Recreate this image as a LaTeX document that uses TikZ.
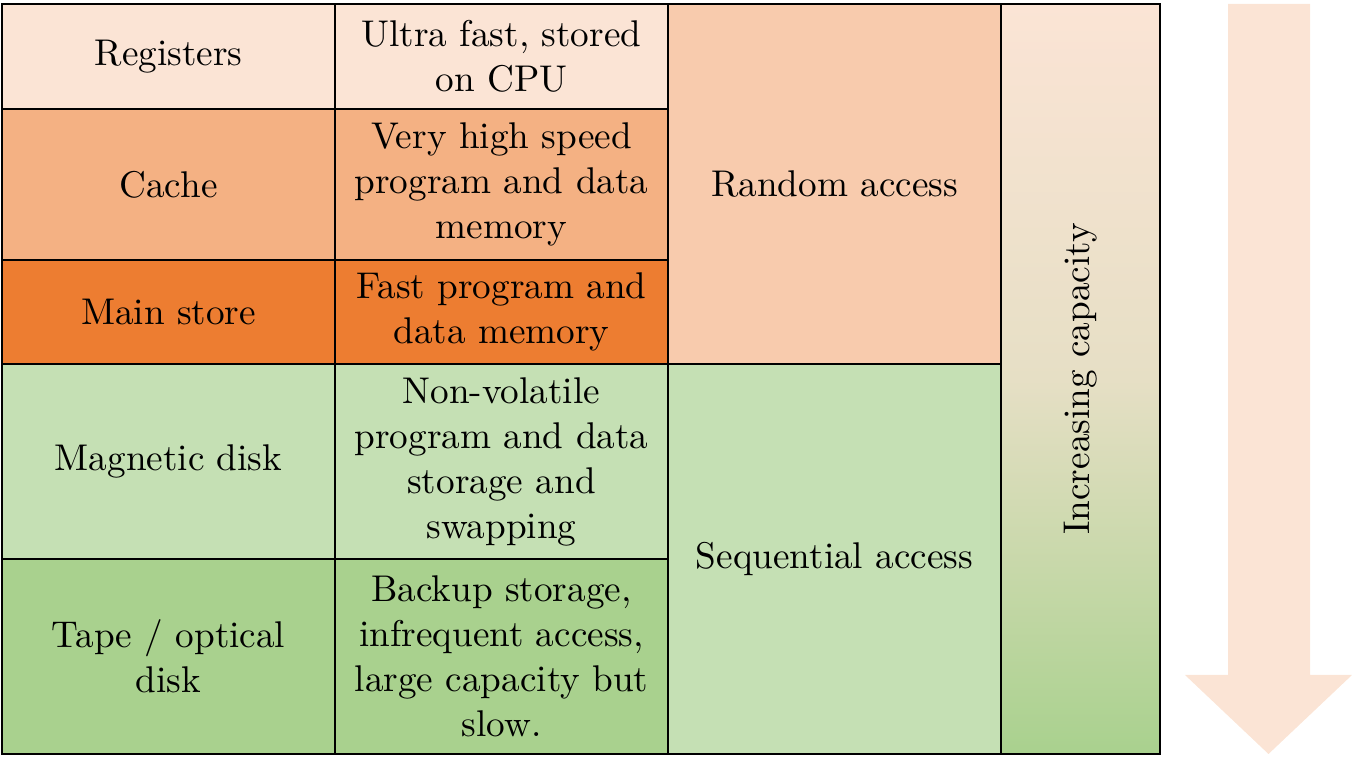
\documentclass[tikz,border=0pt]{standalone}
\definecolor{cReg}{HTML}{FBE4D5}
\definecolor{cCache}{HTML}{F4B183}
\definecolor{cMain}{HTML}{ED7D31}
\definecolor{cRand}{HTML}{F8CBAD}
\definecolor{cMag}{HTML}{C5E0B4}
\definecolor{cTape}{HTML}{A9D18E}
\definecolor{cMid}{HTML}{E6DFC5}
\pgfdeclareverticalshading{capshade}{100bp}{color(0bp)=(cTape); color(25bp)=(cTape); color(50bp)=(cMid); color(75bp)=(cReg); color(100bp)=(cReg)}
\def\u{0.2688pt}
\tikzset{
  cell/.style={draw=black, line width=2*\u, anchor=north west, inner sep=0pt, outer sep=0pt,
    align=center, font=\fontsize{10}{12.1}\selectfont, minimum width=333*\u},
  lbl/.style={align=center, font=\fontsize{10}{12.1}\selectfont, inner sep=0pt}
}
\begin{document}
\begin{tikzpicture}[x=\u, y=-\u]
\useasboundingbox (0,0) rectangle (1352,770);
% left column
\node[cell, fill=cReg, minimum height=105*\u] (reg) at (2,4) {Registers};
\node[cell, fill=cCache, minimum height=151*\u] (cache) at (2,109) {Cache};
\node[cell, fill=cMain, minimum height=104*\u] (main) at (2,260) {Main store};
\node[cell, fill=cMag, minimum height=195*\u] (mag) at (2,364) {Magnetic disk};
\node[cell, fill=cTape, minimum height=195*\u] (tape) at (2,559) {Tape / optical\\disk};
% description column
\node[cell, fill=cReg, minimum height=105*\u] (regd) at (335,4) {Ultra fast, stored\\on CPU};
\node[cell, fill=cCache, minimum height=151*\u] (cached) at (335,109) {Very high speed\\program and data\\memory};
\node[cell, fill=cMain, minimum height=104*\u] (maind) at (335,260) {Fast program and\\data memory};
\node[cell, fill=cMag, minimum height=195*\u] (magd) at (335,364) {Non-volatile\\program and data\\storage and\\swapping};
\node[cell, fill=cTape, minimum height=195*\u] (taped) at (335,559) {Backup storage,\\infrequent access,\\large capacity but\\slow.};
% access column
\node[cell, fill=cRand, minimum height=360*\u] (rand) at (668,4) {Random access};
\node[cell, fill=cMag, minimum height=390*\u] (seq) at (668,364) {Sequential access};
% capacity column
\node[cell, shading=capshade, minimum width=159*\u, minimum height=750*\u] (cap) at (1001,4) {};
\node[lbl, rotate=90] (captxt) at (cap.center) {Increasing capacity};
% arrow
\fill[cReg] (1228,4) -- (1310,4) -- (1310,675) -- (1352,675) -- (1268.5,754) -- (1185,675) -- (1228,675) -- cycle;
\end{tikzpicture}
\end{document}
